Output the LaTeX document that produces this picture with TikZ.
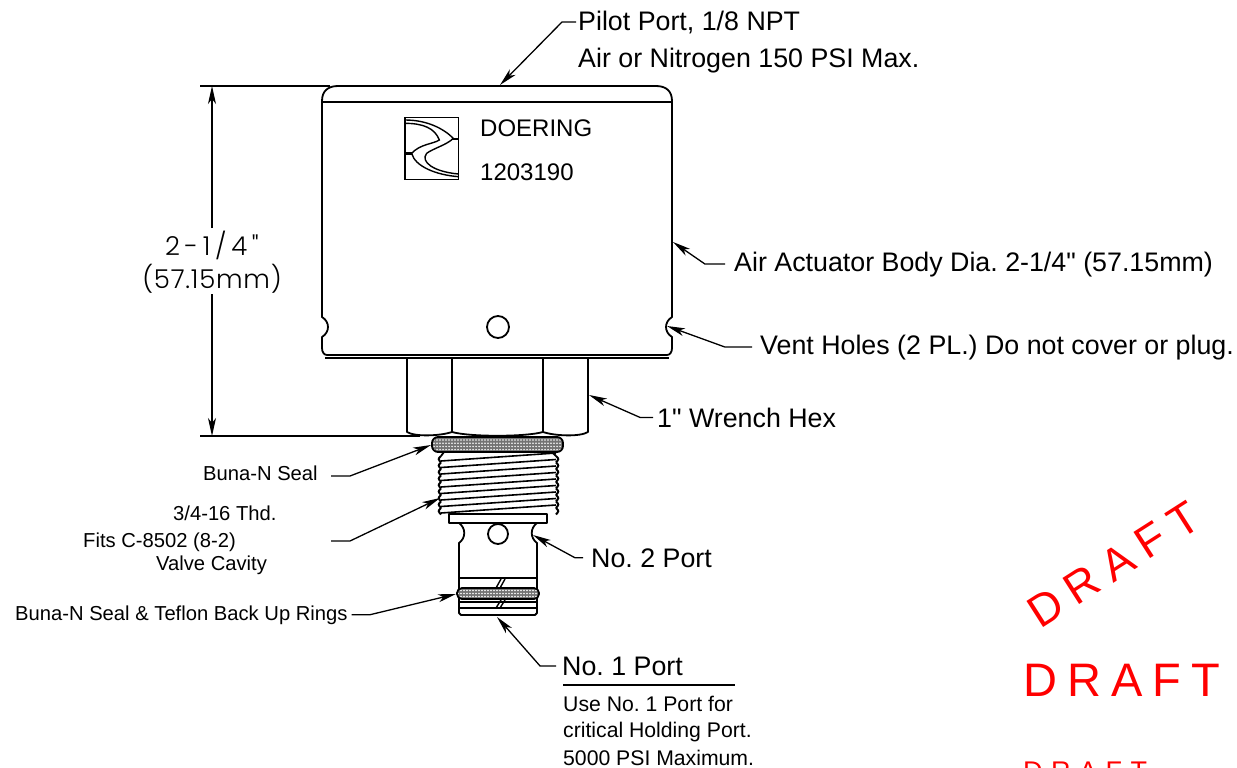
\documentclass[tikz,border=0pt]{standalone}
\usepackage{fontspec}
\newfontfamily\lib{Liberation Sans}
\newfontfamily\cadfont{Poppins}[UprightFont=* Light]
\usetikzlibrary{arrows.meta}
\tikzset{
  x=1pt,y=-1pt,
  part/.style={draw=black,line width=1.8pt,line join=round},
  thin part/.style={draw=black,line width=1.4pt},
  leader/.style={draw=black,line width=1.3pt,-{Stealth[length=18pt,width=8pt,inset=5pt]}},
  big/.style={font=\fontsize{26.8}{30}\lib\frenchspacing,anchor=base west,inner sep=0pt,text=black},
  brand/.style={font=\fontsize{24}{28}\lib\frenchspacing,anchor=base west,inner sep=0pt},
  small/.style={font=\fontsize{20.2}{24}\lib\frenchspacing,anchor=base west,inner sep=0pt},
  note/.style={font=\fontsize{21.2}{24}\lib\frenchspacing,anchor=base west,inner sep=0pt},
  dimtext/.style={inner sep=0pt},
  draft/.style={text=red,inner sep=0pt,anchor=base west},
}
\begin{document}
\begin{tikzpicture}
\clip (0,0) rectangle (1237,768);
\fill[white] (0,0) rectangle (1237,768);

% actuator body
\draw[part] (322,101) .. controls (322,91) and (328,86) .. (338,86) -- (656,86)
  .. controls (666,86) and (672,91) .. (672,101)
  -- (672,317) .. controls (664,322) and (664,332) .. (672,337) -- (672,348)
  .. controls (672,352) and (670,355) .. (667,355)
  -- (327,355) .. controls (324,355) and (322,352) .. (322,348)
  -- (322,337) .. controls (330,332) and (330,322) .. (322,317) -- cycle;
\draw[part] (322,102) -- (672,102);
\draw[part] (325,358) -- (669,358);
\node[part,circle,minimum size=22pt,inner sep=0pt] (venthole) at (498,327) {};

% logo
\begin{scope}[shift={(310,70)},scale=1/3]
  \draw[line width=1.5pt] (285,143) rectangle (445,328);
  \draw[line width=1.4pt] (285,150) .. controls (350,150) and (400,175) .. (430,205)
     .. controls (410,225) and (370,235) .. (350,250) .. controls (330,275) and (370,305) .. (445,312);
  \draw[line width=1.4pt] (285,160) .. controls (340,160) and (375,175) .. (388,210)
     .. controls (370,222) and (330,222) .. (305,250) .. controls (315,290) and (380,315) .. (445,320);
  \draw[line width=2.5pt] (425,207) -- (445,207);
  \draw[line width=2.5pt] (285,250) -- (305,250);
\end{scope}

% hex
\draw[part] (407,358) -- (407,432) .. controls (415,437) and (440,436) .. (452,432) -- (452,358);
\draw[part] (543,358) -- (543,432) .. controls (555,436) and (580,437) .. (588,432) -- (588,358);
\draw[part] (452,432) .. controls (470,437) and (525,437) .. (543,432);

% seal under hex
\begin{scope}
  \clip[rounded corners=6pt] (432,437) rectangle (563,452);
  \fill[black!55] (432,437) rectangle (563,452);
  \foreach \i in {0,...,43}{\foreach \j in {0,...,3}{
    \fill[white] ({434+\i*3},{440+\j*3.2}) circle (0.85);}}
\end{scope}
\draw[part,rounded corners=6pt] (432,437) rectangle (563,452);

% thread
\foreach \i in {0,...,8}{
  \draw[line width=1.6pt] (441,{461+\i*6.5}) -- (556,{453+\i*6.5});
  \draw[line width=2pt] (441,{456+\i*6.5}) .. controls (438,{459+\i*6.5}) .. (441,{462.5+\i*6.5});
  \draw[line width=2pt] (556,{456+\i*6.5}) .. controls (559,{459+\i*6.5}) .. (556,{462.5+\i*6.5});
}
\draw[part] (444,452) -- (441,456);
\draw[part] (552,452) -- (556,456);

% collar
\draw[part] (449,514) rectangle (547,523);

% lower stem
\draw[part] (459,523) .. controls (466,528) and (466,538) .. (459,543) -- (459,613) -- (461,615)
  -- (535,615) -- (537,613) -- (537,543) .. controls (530,538) and (530,528) .. (537,523);
\node[part,circle,minimum size=20pt,inner sep=0pt] (porthole) at (498,534) {};
\draw[line width=2.2pt] (459,578) -- (537,578);
\draw[line width=1.6pt] (459,602) -- (537,602);
\draw[line width=2.2pt] (459,608) -- (537,608);
\draw[line width=1.4pt] (496,588) -- (501,579) (500,588) -- (505,579);
\draw[line width=1.4pt] (496,608) -- (501,600) (500,608) -- (505,600);
\begin{scope}
  \clip[rounded corners=5pt] (457,588) rectangle (539,599);
  \fill[black!55] (457,588) rectangle (539,599);
  \foreach \i in {0,...,27}{\foreach \j in {0,...,2}{
    \fill[white] ({458+\i*3},{590.5+\j*3}) circle (0.85);}}
\end{scope}
\draw[part,rounded corners=5pt] (457,588) rectangle (539,599);

% dimension
\coordinate (dimtop) at (212,86);
\coordinate (dimbot) at (212,436);
\coordinate (gapA) at (212,228);
\coordinate (gapB) at (212,294);
\draw[thin part] (200,86) -- (330,86);
\draw[thin part] (200,436) -- (420,436);
\node[dimtext,font={\fontsize{26}{28}\cadfont\addfontfeature{LetterSpace=18}}] (dimA) at (212,245) {2-1/4"};
\node[dimtext,font={\fontsize{26}{28}\cadfont\addfontfeature{LetterSpace=3}}] (dimB) at (212,279) {(57.15mm)};
\draw[leader] (gapA) -- (dimtop);
\draw[leader] (gapB) -- (dimbot);

% labels
\node[big] (pilot) at (578,31) {Pilot Port, 1/8 NPT};
\node[big] (air) at (578,67) {Air or Nitrogen 150 PSI Max.};
\node[brand] (doering) at (480,136) {DOERING};
\node[brand] (partno) at (480,180) {1203190};
\node[big] (body) at (734,271) {Air Actuator Body Dia. 2-1/4" (57.15mm)};
\node[big] (vent) at (760,354) {Vent Holes (2 PL.) Do not cover or plug.};
\node[big] (hexl) at (657,427) {1" Wrench Hex};
\node[small] (buna) at (203,480) {Buna-N Seal};
\node[small] (thd) at (173,520) {3/4-16 Thd.};
\node[small] (fits) at (83,547) {Fits C-8502 (8-2)};
\node[small] (cavity) at (156,570) {Valve Cavity};
\node[big] (port2) at (591,567) {No. 2 Port};
\node[small] (rings) at (15,620) {Buna-N Seal \& Teflon Back Up Rings};
\node[big] (port1) at (562,675) {No. 1 Port};
\node[note] (use) at (563,711) {Use No. 1 Port for};
\node[note] (crit) at (563,737) {critical Holding Port.};
\node[note] (maxp) at (563,765) {5000 PSI Maximum.};
\draw[line width=1.3pt] (563,685) -- (735,685);

% leaders
\coordinate (tipPilot) at (500,85);
\coordinate (tipBody) at (673,242);
\coordinate (tipVent) at (667,326);
\coordinate (tipHex) at (589,395);
\coordinate (tipBuna) at (431,445);
\coordinate (tipThd) at (440,498);
\coordinate (tipP2) at (533,535);
\coordinate (tipRings) at (456,594);
\coordinate (tipP1) at (497,617);
\coordinate (thdstart) at (331,541);
\coordinate (bunastart) at (331,476);
\draw[leader] (pilot.west) ++(-2,-1) -- ++(-14,0) -- (tipPilot);
\draw[leader] (body.west) ++(-9,0) -- ++(-20,0) -- (tipBody);
\draw[leader] (vent.west) ++(-8,0) -- ++(-27,0) -- (tipVent);
\draw[leader] (hexl.west) ++(-4,0) -- ++(-13,0) -- (tipHex);
\draw[leader] (bunastart) -- ++(19,0) -- (tipBuna);
\draw[leader] (thdstart) -- ++(19,0) -- (tipThd);
\draw[leader] (port2.west) ++(-8,0) -- ++(-8,0) -- (tipP2);
\draw[leader] (rings.east) ++(4,0) -- ++(18,0) -- (tipRings);
\draw[leader] (port1.west) ++(-6,0) -- ++(-16,0) -- (tipP1);

% draft stamps
\node[draft,rotate=32.6,font=\fontsize{45}{50}\lib] (draftA) at (1040,630) {D\hspace{11pt}R\hspace{11pt}A\hspace{11pt}F\hspace{11pt}T};
\node[draft,font=\fontsize{47}{50}\lib] (draftB) at (1023,696) {D\hspace{10pt}R\hspace{10pt}A\hspace{10pt}F\hspace{10pt}T};
\node[draft,font=\fontsize{27}{34}\lib] (draftC) at (1023,780.5) {D\hspace{8.5pt}R\hspace{8.5pt}A\hspace{8.5pt}F\hspace{8.5pt}T};
\end{tikzpicture}
\end{document}
